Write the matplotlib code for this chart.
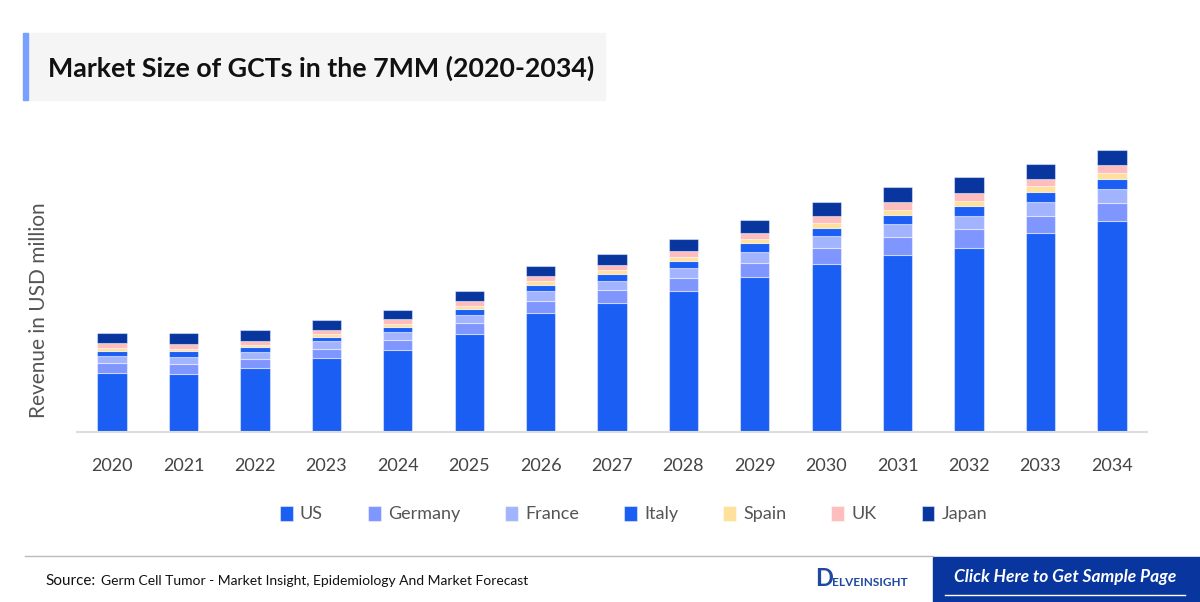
import numpy as np
from matplotlib import pyplot as plt
from matplotlib.patches import Rectangle

years = ['2020', '2021', '2022', '2023', '2024', '2025', '2026', '2027',
         '2028', '2029', '2030', '2031', '2032', '2033', '2034']

# revenue estimates (USD million)
us = [59.3, 58.3, 63.7, 74.3, 82.3, 98.3, 119.3, 129, 141, 155, 168, 177.3, 184.3, 198.7, 210.7]
germany = [10, 9.7, 9.6, 9, 10, 10.7, 11.7, 12.7, 13, 14.3, 16, 17.7, 18.4, 17.6, 18.3]
france = [7, 7.3, 6.4, 7.4, 7.7, 8.3, 9.7, 9.3, 10, 11, 11.7, 12.7, 13.6, 13.7, 14.3]
italy = [5, 5.4, 5, 4.6, 5.3, 5.7, 6.6, 7, 7.3, 8.4, 8.6, 9.6, 9.7, 9.7, 10]
spain = [3, 2.6, 2.6, 2.7, 2.7, 3.3, 3.7, 4, 4, 4.3, 5, 5, 5.3, 6, 6]
uk = [4.4, 4.4, 3.7, 4.3, 4.7, 4.7, 4.7, 5.3, 5.7, 6.3, 7, 7.7, 8, 7.6, 8]
japan = [10, 11, 10.7, 9.4, 9, 9.7, 10.3, 10.7, 12, 12.4, 13.4, 15, 15.7, 14.4, 15]

series = [('US', us, '#1b5ef3'), ('Germany', germany, '#7f96ff'),
          ('France', france, '#a3b4ff'), ('Italy', italy, '#1b5ef3'),
          ('Spain', spain, '#ffe19b'), ('UK', uk, '#ffbdbd'),
          ('Japan', japan, '#08369e')]

plt.rcParams['font.family'] = ['Lato', 'DejaVu Sans']

fig = plt.figure(figsize=(12, 6.02), dpi=100)
ax = fig.add_axes([0.0642, 0.2824, 0.8916, 0.5183])

x = np.arange(len(years))
bottom = np.zeros(len(years))
for name, vals, col in series:
    ax.bar(x, vals, 0.41, bottom=bottom, color=col, label=name,
           edgecolor=(1, 1, 1, 0.45), linewidth=0.8)
    bottom += np.array(vals)

ax.set_xlim(-0.49, len(years) - 0.51)
ax.set_ylim(0, 312)
ax.set_xticks(x)
ax.set_xticklabels(years, fontsize=13, color='#444444')
ax.tick_params(axis='x', length=0, pad=19)
ax.set_yticks([])
for s in ['top', 'right', 'left']:
    ax.spines[s].set_visible(False)
ax.spines['bottom'].set_color('#dddddd')
ax.spines['bottom'].set_linewidth(1.5)
ax.set_ylabel('Revenue in USD million', fontsize=15, color='#555555')
ax.yaxis.set_label_coords(-0.026, 0.39)

leg = fig.legend(loc='center', bbox_to_anchor=(0.528, 0.146), ncol=7, frameon=False,
                 fontsize=13, handlelength=0.7, handleheight=0.9, handletextpad=0.4,
                 columnspacing=2.5)
for t in leg.get_texts():
    t.set_color('#555555')

# title box
fig.patches.append(Rectangle((25 / 1200, 1 - 100 / 602), 580 / 1200, 67 / 602,
                             transform=fig.transFigure, color='#f5f5f5', zorder=0))
fig.patches.append(Rectangle((23 / 1200, 1 - 100 / 602), 5 / 1200, 67 / 602,
                             transform=fig.transFigure, color='#7aa0ff', zorder=1))
fig.text(48 / 1200, 1 - 68 / 602, 'Market Size of GCTs in the 7MM (2020-2034)',
         fontsize=19.3, fontweight='bold', color='#111111', va='center')

# footer
fig.add_artist(plt.Line2D([25 / 1200, 933 / 1200], [1 - 556 / 602] * 2,
                          transform=fig.transFigure, color='#bbbbbb', lw=1))
fig.text(45 / 1200, 1 - 581 / 602, 'Source:', fontsize=11, color='#111111', va='center')
fig.text(101 / 1200, 1 - 581 / 602,
         'Germ Cell Tumor - Market Insight, Epidemiology And Market Forecast',
         fontsize=10, color='#111111', va='center')
fig.text(815 / 1200, 1 - 579 / 602, 'D', fontsize=17, fontweight='bold',
         color='#1d4a9e', va='center')
fig.text(832 / 1200, 1 - 582 / 602, 'ELVEINSIGHT', fontsize=8.5, fontweight='bold',
         color='#1d4a9e', va='center')
fig.patches.append(Rectangle((933 / 1200, 0), 267 / 1200, 45 / 602,
                             transform=fig.transFigure, color='#08369e', zorder=0))
fig.text(1065 / 1200, 1 - 577 / 602, 'Click Here to Get Sample Page', fontsize=12.5,
         fontweight='bold', style='italic', color='white', ha='center', va='center')
fig.add_artist(plt.Line2D([945 / 1200, 1185 / 1200], [1 - 595 / 602] * 2,
                          transform=fig.transFigure, color='white', lw=1))

fig.savefig('out.png', dpi=100)
